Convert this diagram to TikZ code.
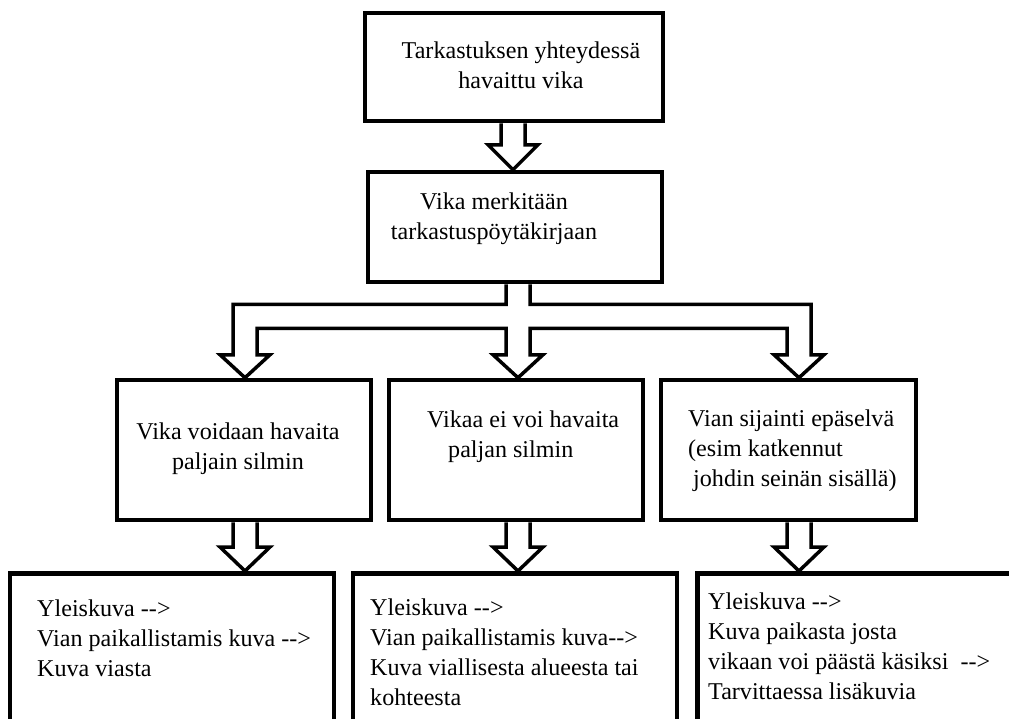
\documentclass[tikz,border=0pt]{standalone}
\usepackage{fontspec}
\usepackage{tikz}
\usetikzlibrary{positioning,calc}
\setmainfont{Liberation Serif}[Ligatures=TeXOff]
\tikzstyle{diagram} = [x = 1pt, y = -1pt]
\tikzstyle{boxStyle} = [draw, line width = 4.5pt, inner sep = 0pt]
\tikzstyle{arrowLine} = [draw, line width = 3.5pt, line join = miter]
\tikzstyle{boxText} = [inner sep = 0pt, font = \rmfamily\fontsize{24.1}{30}\selectfont]
\newcommand{\hollowArrow}[4]{
  \draw [arrowLine] ($(#2.south -| #1)+(-12,0)$) -- ($(#3.north -| #1)+(-12,-#4)$)
    -- ($(#3.north -| #1)+(-25,-#4)$) -- (#3.north -| #1)
    -- ($(#3.north -| #1)+(25,-#4)$) -- ($(#3.north -| #1)+(12,-#4)$)
    -- ($(#2.south -| #1)+(12,0)$);
}

\begin{document}
\begin{tikzpicture}[diagram]
  \useasboundingbox (0,0) rectangle (1009,718);
  \clip (0,0) rectangle (1009,718);

  % boxes
  \node [boxStyle, minimum width = 298pt, minimum height = 108pt] (detect) at (514,67) {};
  \node [boxStyle, minimum width = 294pt, minimum height = 110pt] (record) at (515,227) {};
  \node [boxStyle, minimum width = 254pt, minimum height = 140pt] (visible) at (244,450) {};
  \node [boxStyle, minimum width = 254pt, minimum height = 140pt] (hidden) at (516,450) {};
  \node [boxStyle, minimum width = 255pt, minimum height = 140pt] (unclear) at (788.5,450) {};
  \node [boxStyle, minimum width = 324pt, minimum height = 300pt, anchor = north] (photosA) at (172,571) {};
  \node [boxStyle, minimum width = 324pt, minimum height = 300pt, anchor = north] (photosB) at (515,571) {};
  \node [boxStyle, minimum width = 317pt, minimum height = 300pt, anchor = north west] (photosC) at (695,571) {};

  % texts
  \node [boxText, align = center] (detectText) at (521,65) {Tarkastuksen yhteydessä\\havaittu vika};
  \node [boxText, align = center] (recordText) at (494,219) {Vika merkitään\\tarkastuspöytäkirjaan};
  \node [boxText, align = center] (visibleText) at (238,449) {Vika voidaan havaita\\paljain silmin};
  \node [boxText, align = left, anchor = west] (hiddenText) at (427,437) {Vikaa ei voi havaita\\\hspace*{21pt}paljan silmin};
  \node [boxText, align = left, anchor = west] (unclearText) at (688,451) {Vian sijainti epäselvä\\(esim katkennut\\\hspace*{5pt}johdin seinän sisällä)};
  \node [boxText, align = left, anchor = west] (photosAText) at (37,638) {Yleiskuva -->\\Vian paikallistamis kuva -->\\Kuva viasta};
  \node [boxText, align = left, anchor = west] (photosBText) at (370,652) {Yleiskuva -->\\Vian paikallistamis kuva-->\\Kuva viallisesta alueesta tai\\kohteesta};
  \node [boxText, align = left, anchor = west] (photosCText) at (708,646) {Yleiskuva -->\\Kuva paikasta josta\\vikaan voi päästä käsiksi~~-->\\Tarvittaessa lisäkuvia};

  % arrow columns
  \coordinate (colTop) at (513,0);
  \coordinate (colA) at (245,0);
  \coordinate (colB) at (518,0);
  \coordinate (colC) at (799,0);
  \coordinate (forkOuter) at ($(record.south)+(0,20)$);
  \coordinate (forkInner) at ($(record.south)+(0,44)$);

  \hollowArrow{colTop}{detect}{record}{25}

  % fork into three
  \draw [arrowLine] ($(record.south -| colB)+(-12,0)$) -- ($(forkOuter -| colB)+(-12,0)$)
    -- ($(forkOuter -| colA)+(-12,0)$) -- ($(visible.north -| colA)+(-12,-23)$)
    -- ($(visible.north -| colA)+(-25,-23)$) -- (visible.north -| colA)
    -- ($(visible.north -| colA)+(25,-23)$) -- ($(visible.north -| colA)+(12,-23)$)
    -- ($(forkInner -| colA)+(12,0)$) -- ($(forkInner -| colB)+(-12,0)$)
    -- ($(hidden.north -| colB)+(-12,-23)$) -- ($(hidden.north -| colB)+(-25,-23)$)
    -- (hidden.north -| colB)
    -- ($(hidden.north -| colB)+(25,-23)$) -- ($(hidden.north -| colB)+(12,-23)$)
    -- ($(forkInner -| colB)+(12,0)$) -- ($(forkInner -| colC)+(-12,0)$)
    -- ($(unclear.north -| colC)+(-12,-23)$) -- ($(unclear.north -| colC)+(-25,-23)$)
    -- (unclear.north -| colC)
    -- ($(unclear.north -| colC)+(25,-23)$) -- ($(unclear.north -| colC)+(12,-23)$)
    -- ($(forkOuter -| colC)+(12,0)$) -- ($(forkOuter -| colB)+(12,0)$)
    -- ($(record.south -| colB)+(12,0)$);

  \hollowArrow{colA}{visible}{photosA}{24}
  \hollowArrow{colB}{hidden}{photosB}{24}
  \hollowArrow{colC}{unclear}{photosC}{24}
\end{tikzpicture}
\end{document}
